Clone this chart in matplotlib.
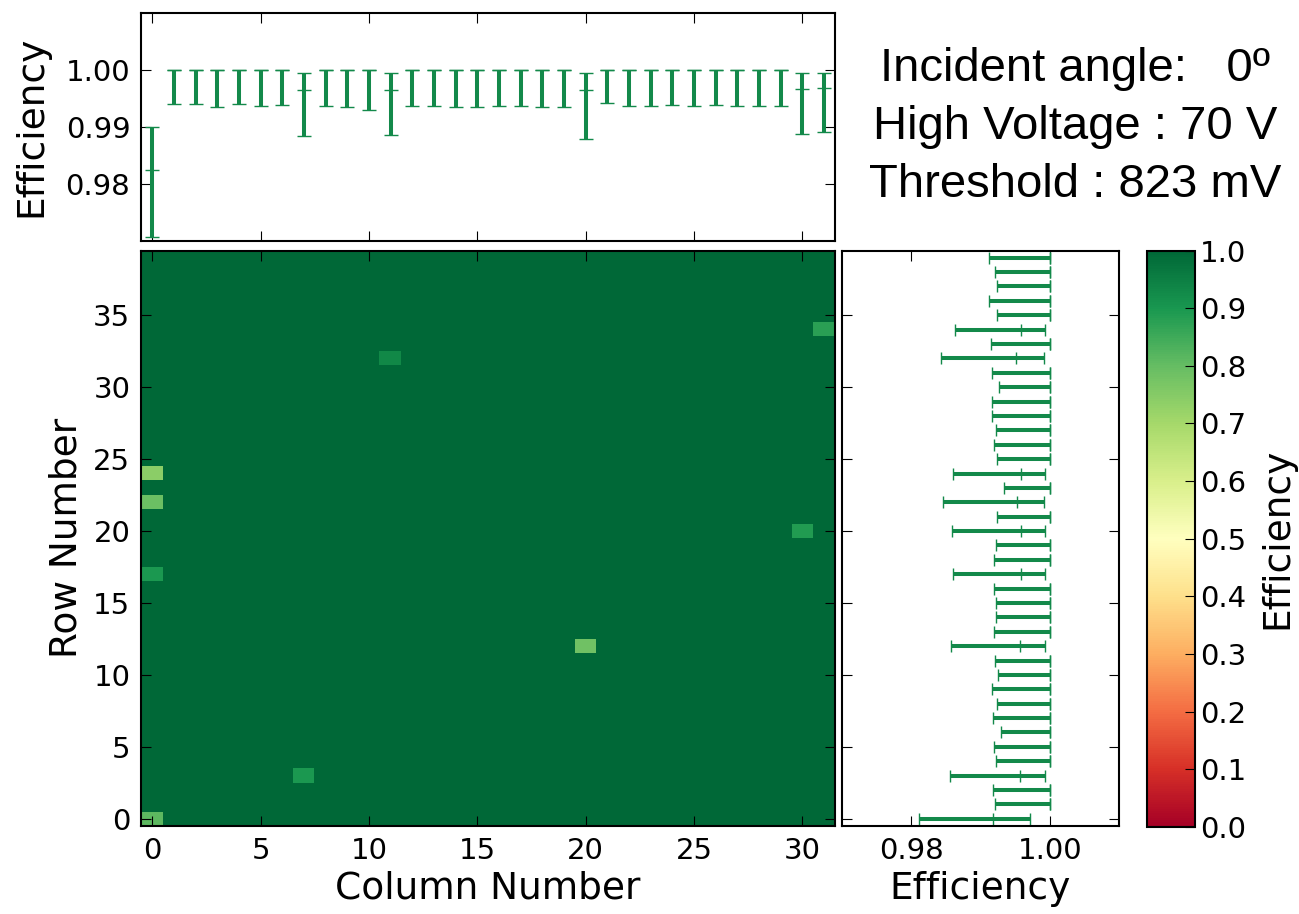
import matplotlib
matplotlib.use("Agg")
import matplotlib.pyplot as plt
import numpy as np

n_cols, n_rows = 32, 40

# pixels below full efficiency: (column, row, efficiency)
bad_cols = [0, 0, 0, 0, 7, 11, 20, 30, 31]
bad_rows = [0, 17, 22, 24, 3, 32, 12, 20, 34]
bad_eff = [0.81, 0.895, 0.79, 0.74, 0.895, 0.93, 0.785, 0.89, 0.875]

# column efficiency (top panel) with lower / upper bounds
col_eff = [0.9824, 1, 1, 1, 1, 1, 1, 0.9965, 1, 1, 1, 0.9965, 1, 1, 1, 1,
           1, 1, 1, 1, 0.9964, 1, 1, 1, 1, 1, 1, 1, 1, 1, 0.9966, 0.9967]
col_lo = [0.9707, 0.9940, 0.9940, 0.9934, 0.9939, 0.9937, 0.9938, 0.9884,
          0.9937, 0.9934, 0.9930, 0.9885, 0.9937, 0.9936, 0.9934, 0.9934,
          0.9936, 0.9936, 0.9935, 0.9934, 0.9878, 0.9941, 0.9937, 0.9936,
          0.9938, 0.9937, 0.9938, 0.9937, 0.9937, 0.9937, 0.9888, 0.9891]
col_hi = [0.9900, 1, 1, 1, 1, 1, 1, 0.9994, 1, 1, 1, 0.9994, 1, 1, 1, 1,
          1, 1, 1, 1, 0.9994, 1, 1, 1, 1, 1, 1, 1, 1, 1, 0.9994, 0.9994]

# row efficiency (right panel) with lower / upper bounds
row_eff = [0.9918, 1, 1, 0.9957, 1, 1, 1, 1, 1, 1, 1, 1, 0.9957, 1, 1, 1,
           1, 0.9958, 1, 1, 0.9958, 1, 0.9953, 1, 0.9958, 1, 1, 1, 1, 1,
           1, 1, 0.9952, 1, 0.9958, 1, 1, 1, 1, 1]
row_lo = [0.9811, 0.9921, 0.9918, 0.9856, 0.9923, 0.9919, 0.9930, 0.9918,
          0.9924, 0.9916, 0.9925, 0.9921, 0.9858, 0.9919, 0.9922, 0.9922,
          0.9919, 0.9860, 0.9920, 0.9923, 0.9859, 0.9924, 0.9846, 0.9934,
          0.9861, 0.9924, 0.9919, 0.9923, 0.9917, 0.9916, 0.9927, 0.9916,
          0.9843, 0.9915, 0.9863, 0.9924, 0.9912, 0.9924, 0.9921, 0.9913]
row_hi = [0.9972, 1, 1, 0.9993, 1, 1, 1, 1, 1, 1, 1, 1, 0.9993, 1, 1, 1,
          1, 0.9993, 1, 1, 0.9993, 1, 0.9992, 1, 0.9993, 1, 1, 1, 1, 1,
          1, 1, 0.9992, 1, 0.9993, 1, 1, 1, 1, 1]

info_text = "Incident angle:   0º\nHigh Voltage : 70 V\nThreshold : 823 mV"

plt.rcParams['font.family'] = 'DejaVu Sans'
plt.rcParams['xtick.direction'] = 'in'
plt.rcParams['ytick.direction'] = 'in'
plt.rcParams['xtick.top'] = True
plt.rcParams['ytick.right'] = True
plt.rcParams['xtick.major.size'] = 7
plt.rcParams['ytick.major.size'] = 7
plt.rcParams['axes.linewidth'] = 1.5

green = '#13894a'
tick_fs = 21
label_fs = 27

eff_map = np.ones((n_rows, n_cols))
for c, r, e in zip(bad_cols, bad_rows, bad_eff):
    eff_map[r, c] = e

fig = plt.figure(figsize=(12.99, 9.14), dpi=100)
ax_top = fig.add_axes([0.1089, 0.7367, 0.5339, 0.2494])
ax_map = fig.add_axes([0.1089, 0.0963, 0.5339, 0.6296])
ax_row = fig.add_axes([0.6482, 0.0963, 0.2132, 0.6296])
ax_cb = fig.add_axes([0.8828, 0.0952, 0.0374, 0.6307])

im = ax_map.imshow(eff_map, origin='lower', aspect='auto', cmap='RdYlGn',
                   vmin=0, vmax=1, interpolation='nearest',
                   extent=(-0.5, n_cols - 0.5, -0.5, n_rows - 0.5))
ax_map.set_xticks(np.arange(0, 31, 5))
ax_map.set_yticks(np.arange(0, 36, 5))
ax_map.set_xlabel("Column Number", fontsize=label_fs)
ax_map.set_ylabel("Row Number", fontsize=label_fs, labelpad=6)
ax_map.tick_params(labelsize=tick_fs, pad=8)

# column efficiency
cx = np.arange(n_cols)
ce = np.array(col_eff)
ax_top.errorbar(cx, ce, yerr=[ce - np.array(col_lo), np.array(col_hi) - ce],
                fmt='_', color=green, ecolor=green, elinewidth=2.9,
                capsize=5.3, capthick=1, markersize=10.6, markeredgewidth=1)
ax_top.set_xlim(-0.5, n_cols - 0.5)
ax_top.set_ylim(0.97, 1.01)
ax_top.set_xticks(np.arange(0, 31, 5))
ax_top.set_yticks([0.98, 0.99, 1.00])
ax_top.set_xticklabels([])
ax_top.set_ylabel("Efficiency", fontsize=label_fs, labelpad=12)
ax_top.tick_params(labelsize=tick_fs, pad=8)

# row efficiency
ry = np.arange(n_rows)
re = np.array(row_eff)
ax_row.errorbar(re, ry, xerr=[re - np.array(row_lo), np.array(row_hi) - re],
                fmt='|', color=green, ecolor=green, elinewidth=2.9,
                capsize=4.2, capthick=1, markersize=8.4, markeredgewidth=1)
ax_row.set_ylim(-0.5, n_rows - 0.5)
ax_row.set_xlim(0.97, 1.01)
ax_row.set_xticks([0.98, 1.00])
ax_row.set_yticks(np.arange(0, 36, 5))
ax_row.set_yticklabels([])
ax_row.set_xlabel("Efficiency", fontsize=label_fs)
ax_row.tick_params(labelsize=tick_fs, pad=8)

cb = fig.colorbar(im, cax=ax_cb, ticks=np.arange(0, 1.01, 0.1))
cb.ax.tick_params(labelsize=tick_fs, direction='in', length=7, left=False)
cb.set_label("Efficiency", fontsize=label_fs, labelpad=9)
cb.outline.set_linewidth(1.5)

fig.text(0.8275, 0.861, info_text, ha='center', va='center',
         fontsize=34, family='Liberation Sans', linespacing=1.42)

fig.savefig("out.png", dpi=100)
